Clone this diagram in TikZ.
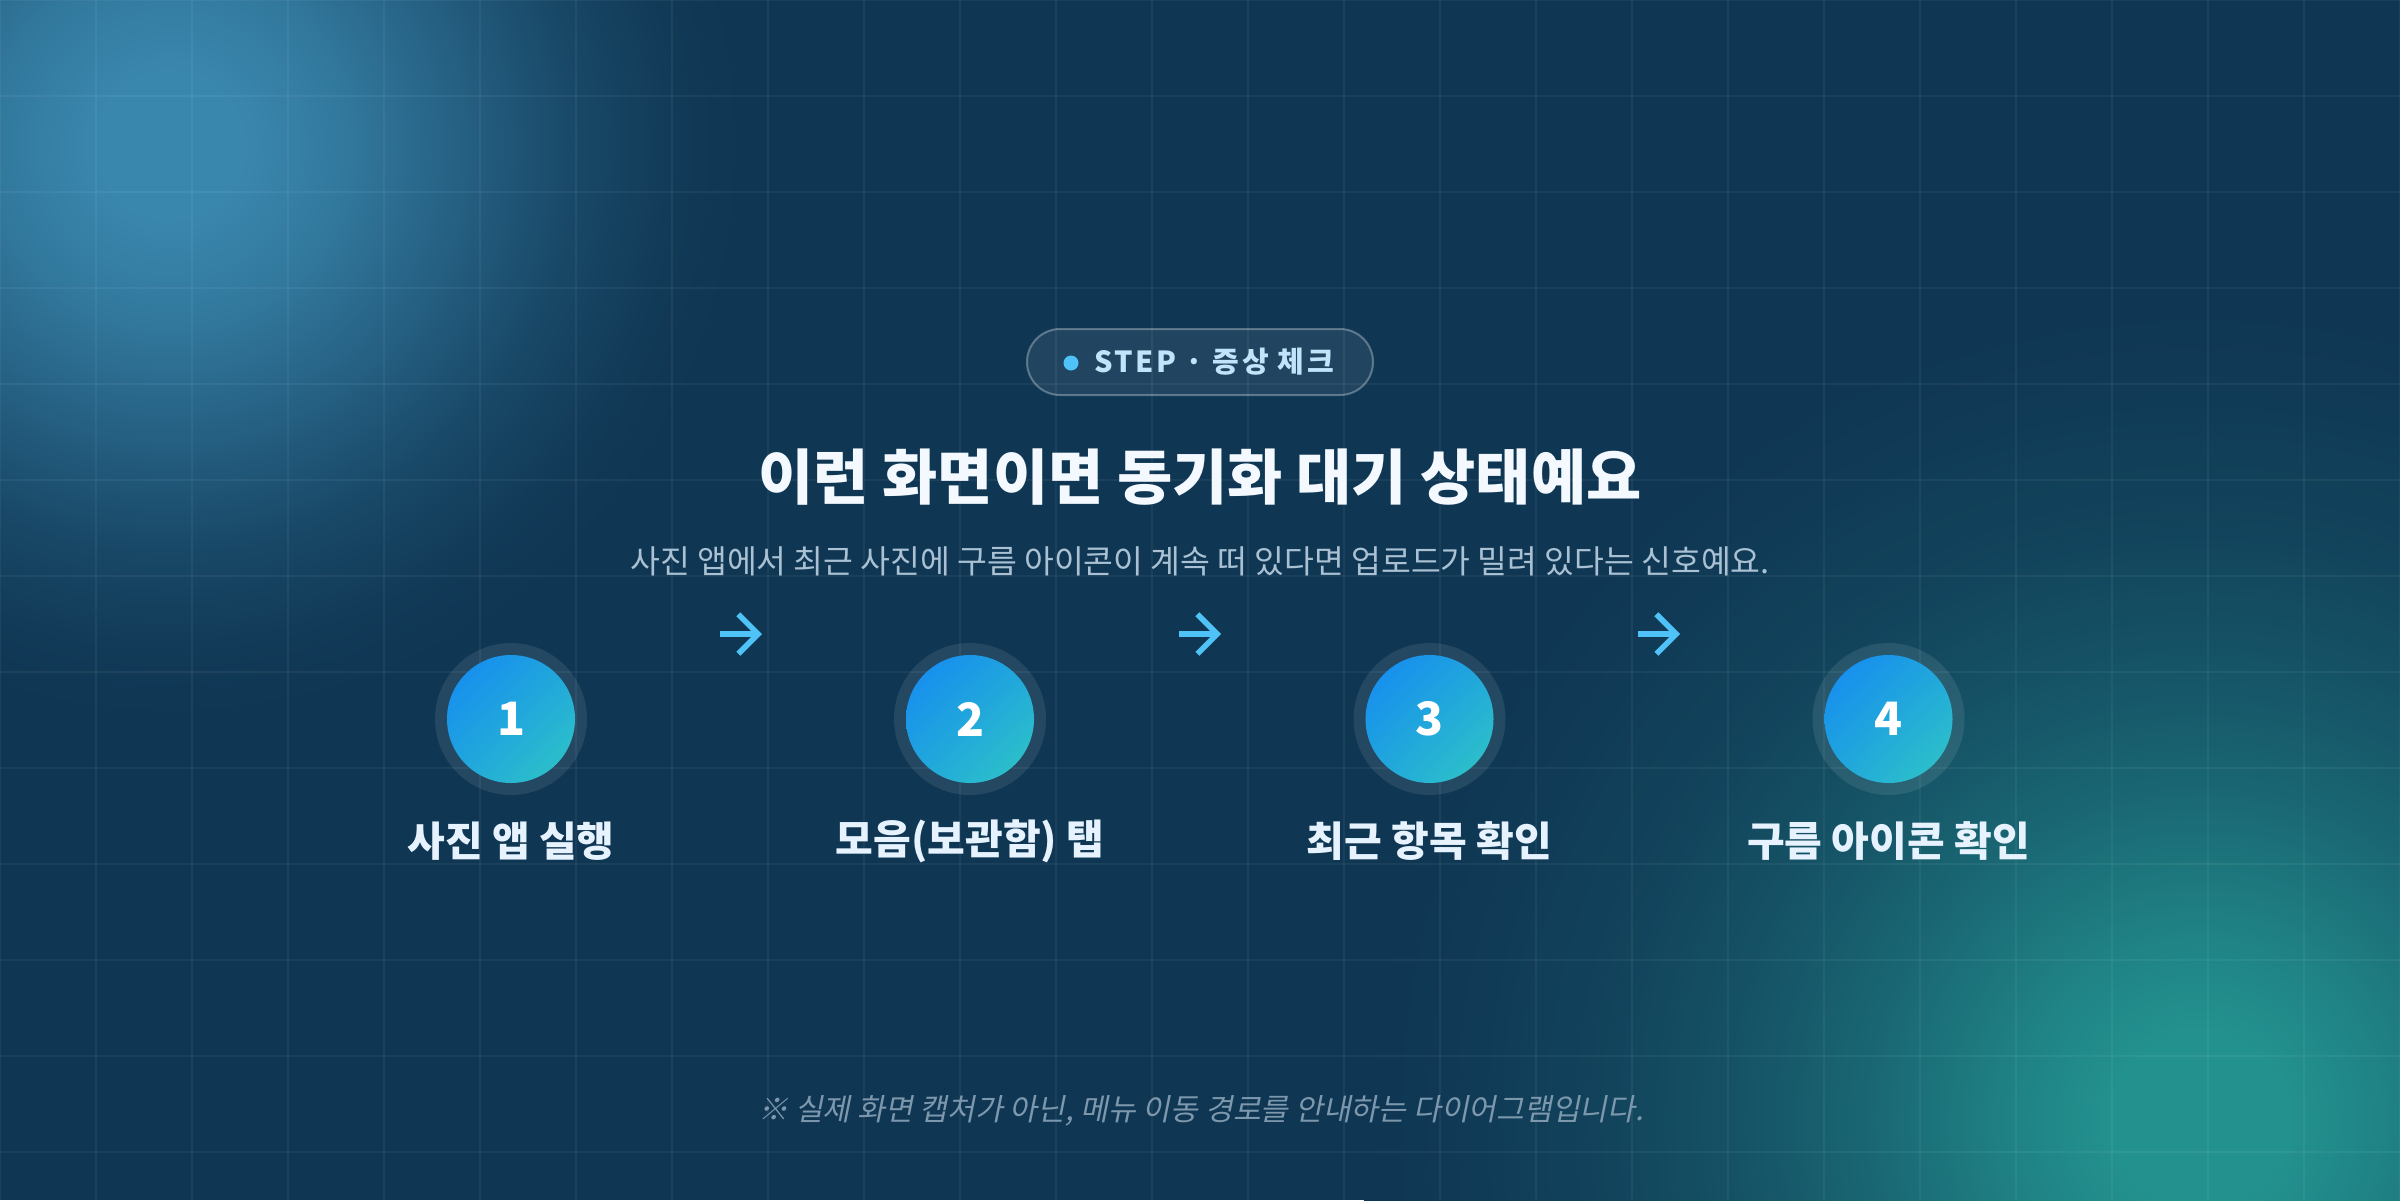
\documentclass[tikz,border=0pt]{standalone}
\usepackage{fontspec}
\newfontfamily\kr{Noto Sans CJK KR}
\newfontfamily\krsl[FakeSlant=0.2]{Noto Sans CJK KR}
\newfontfamily\krsp[LetterSpace=9]{Noto Sans CJK KR}
\usetikzlibrary{arrows.meta,shadings}

\definecolor{bgbase}{HTML}{0F3653}
\definecolor{glowA}{HTML}{3A87AE}
\definecolor{glowB}{HTML}{23928F}
\definecolor{accent}{HTML}{4FC3F7}
\definecolor{pilltext}{HTML}{C2E4FB}
\definecolor{titlecol}{HTML}{F4F9FF}
\definecolor{subcol}{HTML}{A9C1D3}
\definecolor{labelcol}{HTML}{E6F3FF}
\definecolor{notecol}{HTML}{7D98AD}
\definecolor{circA}{HTML}{1488F4}
\definecolor{circM}{HTML}{20A6DC}
\definecolor{circB}{HTML}{30C8C4}

% the path's half-width corresponds to 25bp of a radial shading
\pgfdeclareradialshading{glowAshade}{\pgfpointorigin}{color(0bp)=(glowA); color(3bp)=(glowA); color(7.5bp)=(glowA!82!bgbase); color(12.5bp)=(glowA!52!bgbase); color(17.5bp)=(glowA!22!bgbase); color(21.5bp)=(glowA!6!bgbase); color(25bp)=(bgbase); color(50bp)=(bgbase)}
\pgfdeclareradialshading{glowBshade}{\pgfpointorigin}{color(0bp)=(glowB); color(2.5bp)=(glowB); color(6bp)=(glowB!80!bgbase); color(10bp)=(glowB!52!bgbase); color(14bp)=(glowB!30!bgbase); color(18bp)=(glowB!14!bgbase); color(22bp)=(glowB!4!bgbase); color(25bp)=(bgbase); color(50bp)=(bgbase)}

\begin{document}
\begin{tikzpicture}[x=1pt,y=-1pt,
  gridline/.style={draw=white, draw opacity=0.05, line width=2pt},
  pill/.style={rounded corners=33pt, fill=white, fill opacity=0.08, draw=white, draw opacity=0.3, line width=2pt},
  ring/.style={circle, minimum size=152pt, inner sep=0pt, fill=white, fill opacity=0.09},
  stepcircle/.style={circle, minimum size=128pt, inner sep=0pt, upper left=circA, upper right=circM, lower left=circM, lower right=circB, text=white, font=\kr\bfseries\fontsize{46}{50}\selectfont},
  steplabel/.style={text=labelcol, inner sep=0pt, font=\kr\bfseries\fontsize{41}{48}\selectfont},
  flowarrow/.style={draw=accent, line width=5.5pt, -{Straight Barb[angle=90:28pt]}}
]
\useasboundingbox (0,0) rectangle (2400,1200);
\begin{scope}
  \clip (0,0) rectangle (2400,1200);
  \fill[bgbase] (0,0) rectangle (2400,1200);
  \shade[shading=glowAshade] (170,145) circle (580);
  \shade[shading=glowBshade] (2200,1120) circle (840);
  \foreach \gx in {0,96,...,2400} \draw[gridline] (\gx,0) -- (\gx,1200);
  \foreach \gy in {0,96,...,1200} \draw[gridline] (0,\gy) -- (2400,\gy);
\end{scope}

% badge
\draw[pill] (1027,329) rectangle (1373,395);
\node[circle, fill=accent, minimum size=15pt, inner sep=0pt] (dot) at (1071,363) {};
\node[text=pilltext, inner sep=0pt, font=\krsp\bfseries\fontsize{29}{34}\selectfont] (badge) at (1214,362) {STEP · 증상 체크};

% title and subtitle
\node[text=titlecol, inner sep=0pt, font=\kr\bfseries\fontsize{60}{68}\selectfont] (title) at (1200,477) {이런 화면이면 동기화 대기 상태예요};
\node[text=subcol, inner sep=0pt, font=\kr\fontsize{32.4}{38}\selectfont] (subtitle) at (1200,561) {사진 앱에서 최근 사진에 구름 아이콘이 계속 떠 있다면 업로드가 밀려 있다는 신호예요.};

% steps
\node[ring] (r1) at (511,719) {};
\node[ring] (r2) at (970,719) {};
\node[ring] (r3) at (1429.5,719) {};
\node[ring] (r4) at (1888.5,719) {};
\node[stepcircle] (c1) at (511,719) {1};
\node[stepcircle] (c2) at (970,719) {2};
\node[stepcircle] (c3) at (1429.5,719) {3};
\node[stepcircle] (c4) at (1888.5,719) {4};
\node[steplabel] (l1) at (511,841) {사진 앱 실행};
\node[steplabel] (l2) at (970,841) {모음(보관함) 탭};
\node[steplabel] (l3) at (1429.5,841) {최근 항목 확인};
\node[steplabel] (l4) at (1888.5,841) {구름 아이콘 확인};

% arrows
\coordinate (a1s) at (720,634);
\coordinate (a1e) at (762,634);
\coordinate (a2s) at (1179,634);
\coordinate (a2e) at (1221,634);
\coordinate (a3s) at (1638,634);
\coordinate (a3e) at (1680,634);
\draw[flowarrow] (a1s) -- (a1e);
\draw[flowarrow] (a2s) -- (a2e);
\draw[flowarrow] (a3s) -- (a3e);

% footnote
\node[text=notecol, inner sep=0pt, font=\krsl\fontsize{30.2}{36}\selectfont] (note) at (1201,1111) {※ 실제 화면 캡처가 아닌, 메뉴 이동 경로를 안내하는 다이어그램입니다.};
\end{tikzpicture}
\end{document}
